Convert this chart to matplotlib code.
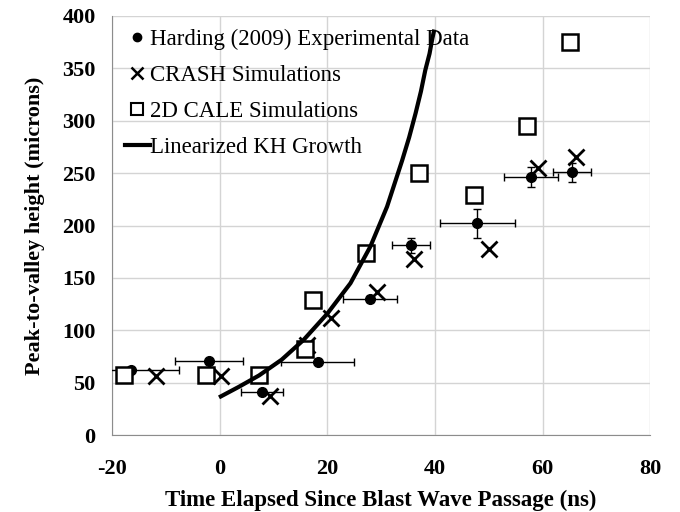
import matplotlib
matplotlib.use("Agg")
import matplotlib.pyplot as plt
from matplotlib.lines import Line2D
import numpy as np

plt.rcParams["font.family"] = ["Liberation Serif", "DejaVu Serif"]
plt.rcParams["axes.unicode_minus"] = False

# Harding (2009) experimental data with error bars
exp_t = [-16.5, -2.0, 7.9, 15.8, 18.2, 28.0, 35.6, 47.9, 57.9, 65.5]
exp_h = [62, 71, 41, 79, 70, 130, 181, 202, 246, 251]
exp_terr = [9.0, 6.3, 3.9, 1.0, 6.8, 5.0, 3.5, 6.9, 5.0, 3.6]
exp_herr = [0, 0, 0, 0, 0, 3, 7, 14, 9.5, 9]

# CRASH simulations
crash_t = [-11.9, 0.2, 9.3, 16.3, 20.6, 29.3, 36.2, 50.1, 59.2, 66.2]
crash_h = [56, 56, 37, 86, 112, 137, 168, 178, 255, 265]

# 2D CALE simulations
cale_t = [-17.8, -2.6, 7.3, 15.8, 17.3, 27.2, 37.0, 47.2, 57.2, 65.1]
cale_h = [57, 57, 57, 82, 129, 174, 250, 229, 295, 375]

# Linearized KH growth curve
kh_t = [0.2, 3.5, 7.3, 11.5, 15.6, 20.0, 24.3, 28.0, 31.1, 33.9, 35.2, 36.4, 37.4, 38.2, 39.0, 39.5, 39.8]
kh_h = [37, 46, 57, 72, 91, 116, 145, 180, 218, 262, 284, 307, 328, 348, 364, 378, 385]

labels = ["Harding (2009) Experimental Data", "CRASH Simulations",
          "2D CALE Simulations", "Linearized KH Growth"]

fig = plt.figure(figsize=(6.8, 5.12), dpi=100)
ax = fig.add_axes([0.165, 0.150, 0.791, 0.819])

ax.errorbar(exp_t, exp_h, xerr=exp_terr, yerr=exp_herr, fmt="o", color="black",
            ms=7, elinewidth=1, capsize=3, capthick=1, zorder=4)
ax.plot(crash_t, crash_h, "x", color="black", ms=11, mew=2, zorder=5)
ax.plot(cale_t, cale_h, "s", mfc="white", mec="black", ms=11, mew=1.8, zorder=5)
ax.plot(kh_t, kh_h, "-", color="black", lw=3, zorder=6)

ax.set_xlim(-20, 80)
ax.set_ylim(0, 400)
ax.set_xticks(np.arange(-20, 81, 20))
ax.set_yticks(np.arange(0, 401, 50))
ax.grid(True, color="#d4d4d4", lw=1)
ax.set_axisbelow(True)
for s in ["top", "right"]:
    ax.spines[s].set_visible(False)
for s in ["left", "bottom"]:
    ax.spines[s].set_color("#8c8c8c")
ax.tick_params(length=0, labelsize=16)
ax.tick_params(axis="x", pad=17)
ax.tick_params(axis="y", pad=12)
for lab in ax.get_xticklabels() + ax.get_yticklabels():
    lab.set_fontweight("bold")

ax.set_xlabel("Time Elapsed Since Blast Wave Passage (ns)", fontsize=16.5,
              fontweight="bold", labelpad=8)
ax.set_ylabel("Peak-to-valley height (microns)", fontsize=16,
              fontweight="bold", labelpad=12)

# legend with simple marker handles (no error bars), as in the reference
handles = [
    Line2D([], [], ls="none", marker="o", color="black", ms=6),
    Line2D([], [], ls="none", marker="x", color="black", ms=9, mew=1.8),
    Line2D([], [], ls="none", marker="s", mfc="white", mec="black", ms=9, mew=1.5),
    Line2D([], [], ls="-", color="black", lw=3),
]
leg = ax.legend(handles, labels, loc="upper left", bbox_to_anchor=(0.0, 1.0),
                frameon=False, fontsize=16.5, handlelength=1.1, handletextpad=0.0,
                labelspacing=0.66, borderaxespad=0.2, borderpad=0.35)
leg.set_zorder(3)

fig.savefig("out.png", dpi=100)
